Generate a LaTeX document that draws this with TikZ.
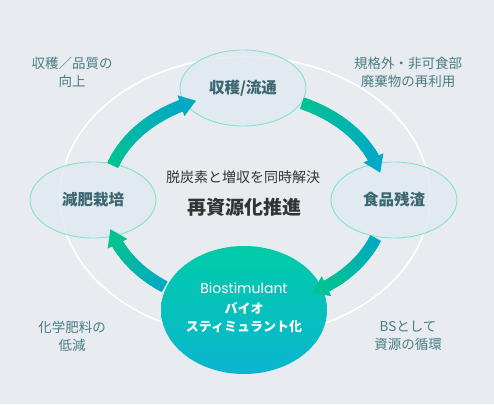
\documentclass[tikz,border=0pt]{standalone}
\usepackage{fontspec}
\setmainfont{Noto Sans CJK JP}
\newfontfamily\popfont{Poppins}
\usetikzlibrary{shapes.geometric,calc}
\definecolor{bg}{HTML}{E8ECF1}
\definecolor{nodefill}{HTML}{E0EAF0}
\definecolor{nodeline}{HTML}{84E2C4}
\definecolor{nodetext}{HTML}{3C6670}
\definecolor{sidetext}{HTML}{4A7C84}
\definecolor{centertext}{HTML}{333333}
\definecolor{agreen}{HTML}{00C292}
\definecolor{ateal}{HTML}{00A9C4}
\definecolor{btop}{HTML}{00CBA8}
\definecolor{bbot}{HTML}{0BB6D0}
\newcommand\gradarrow[5]{%
  \pgfmathsetmacro\spd{sqrt((1.4*sin(#2))^2+(1.06*cos(#2))^2)*100*pi/180}%
  \pgfmathsetmacro\tb{#2-16/\spd}%
  \coordinate (#5-tip) at ($(C)+(#2:140 and 106)$);%
  \coordinate (#5-base) at ($(C)+(\tb:140 and 106)$);%
  \coordinate (#5-tail) at ($(C)+(#1:140 and 106)$);%
  \foreach \i in {0,...,39}{%
    \pgfmathsetmacro\aa{#1+(\tb-#1)*\i/40}%
    \pgfmathsetmacro\bb{#1+(\tb-#1)*(\i+1.5)/40}%
    \pgfmathtruncatemacro\pp{100*\i/39}%
    \draw[line width=12pt, line cap=butt, color=#4!\pp!#3] ($(C)+(\aa:140 and 106)$) -- ($(C)+(\bb:140 and 106)$);%
  }%
  \fill[#4] (#5-tip) -- ($(#5-base)!11pt!90:(#5-tip)$) -- ($(#5-base)!11pt!-90:(#5-tip)$) -- cycle;%
}
\begin{document}
\begin{tikzpicture}[x=1pt,y=-1pt,
  smallnode/.style={ellipse, draw=nodeline, line width=0.9pt, fill=nodefill, fill opacity=0.8, text opacity=1,
    minimum width=126pt, minimum height=76pt, inner sep=0pt, text=nodetext,
    font=\fontsize{15.5}{18}\selectfont\bfseries},
  sidelabel/.style={align=center, text=sidetext, font=\fontsize{13.5}{18}\selectfont, inner sep=0pt},
]
\useasboundingbox (0,0) rectangle (494,404);
\fill[bg] (0,0) rectangle (494,404);
\coordinate (C) at (245,200);
\draw[white, line width=1.6pt] (245,197) ellipse [x radius=185, y radius=140];

\node[smallnode] (top) at (243,88) {収穫/流通};
\node[smallnode] (left) at (93,200) {減肥栽培};
\node[smallnode] (right) at (394,200) {食品残渣};
\node[ellipse, top color=btop, bottom color=bbot, minimum width=166pt, minimum height=128pt, inner sep=0pt] (bs) at (244,310) {};

\gradarrow{199}{249.5}{agreen}{ateal}{a1}
\gradarrow{294}{345}{agreen}{ateal}{a2}
\gradarrow{21}{61.3}{ateal}{agreen}{a3}
\gradarrow{125}{164}{ateal}{agreen}{a4}

\node[text=white, font=\popfont\fontsize{14}{16}\selectfont, inner sep=0pt] (bsname) at (244,288) {Biostimulant};
\node[text=white, align=center, font=\fontsize{13}{18}\selectfont\bfseries, inner sep=0pt] (bsjp) at (244,318) {バイオ\\スティミュラント化};

\node[sidelabel] (tl) at (72,72) {収穫／品質の\\向上};
\node[sidelabel] (tr) at (408,72) {規格外・非可食部\\廃棄物の再利用};
\node[sidelabel] (bl) at (72,336) {化学肥料の\\低減};
\node[sidelabel] (br) at (408,336) {BSとして\\資源の循環};

\node[text=centertext, font=\fontsize{14}{16}\selectfont, inner sep=0pt] (sub) at (243,177) {脱炭素と増収を同時解決};
\node[text=centertext, font=\fontsize{19}{22}\selectfont\bfseries, inner sep=0pt] (main) at (244,207) {再資源化推進};
\end{tikzpicture}
\end{document}
